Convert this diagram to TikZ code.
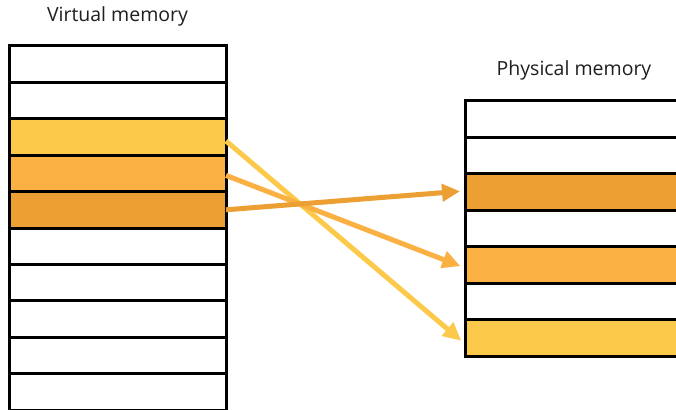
\documentclass[tikz,border=0pt]{standalone}
\usepackage{fontspec}
\setmainfont{Open Sans}
\usetikzlibrary{arrows.meta}
\definecolor{cyel}{RGB}{253,201,75}
\definecolor{cmed}{RGB}{250,176,66}
\definecolor{cdark}{RGB}{236,160,51}
\tikzset{
  cell/.style={draw=black, line width=3pt, minimum width=217pt, minimum height=36.4pt, inner sep=0pt, outer sep=0pt, anchor=north west},
  lbl/.style={font=\fontsize{19.5}{22}\selectfont, text=black!88, inner sep=0pt},
  maparrow/.style={line width=5pt, -{Triangle[length=18pt,width=17pt]}, shorten >=5pt}
}
\begin{document}
\begin{tikzpicture}[x=1pt,y=-1pt]
\useasboundingbox (0,0) rectangle (676,409);
\clip (0,0) rectangle (676,409);
\fill[white] (0,0) rectangle (676,409);
% virtual memory
\node[lbl] (vt) at (117.5,16) {Virtual memory};
\node[cell, fill=white] (v1) at (9,46) {};
\node[cell, fill=white] (v2) at (9,82.4) {};
\node[cell, fill=cyel] (v3) at (9,118.8) {};
\node[cell, fill=cmed] (v4) at (9,155.2) {};
\node[cell, fill=cdark] (v5) at (9,191.6) {};
\node[cell, fill=white] (v6) at (9,228) {};
\node[cell, fill=white] (v7) at (9,264.4) {};
\node[cell, fill=white] (v8) at (9,300.8) {};
\node[cell, fill=white] (v9) at (9,337.2) {};
\node[cell, fill=white] (v10) at (9,373.6) {};
% physical memory
\node[lbl] (pt) at (574,70) {Physical memory};
\node[cell, fill=white] (p1) at (465,100.7) {};
\node[cell, fill=white] (p2) at (465,137.2) {};
\node[cell, fill=cdark] (p3) at (465,173.7) {};
\node[cell, fill=white] (p4) at (465,210.2) {};
\node[cell, fill=cmed] (p5) at (465,246.7) {};
\node[cell, fill=white] (p6) at (465,283.2) {};
\node[cell, fill=cyel] (p7) at (465,319.7) {};
% arrows
\draw[maparrow, cyel] ([yshift=-4pt]v3.east) -- ([yshift=-6pt]p7.west);
\draw[maparrow, cmed] ([yshift=-2pt]v4.east) -- ([yshift=-3pt]p5.west);
\draw[maparrow, cdark] ([yshift=0pt]v5.east) -- ([yshift=1pt]p3.west);
\end{tikzpicture}
\end{document}
